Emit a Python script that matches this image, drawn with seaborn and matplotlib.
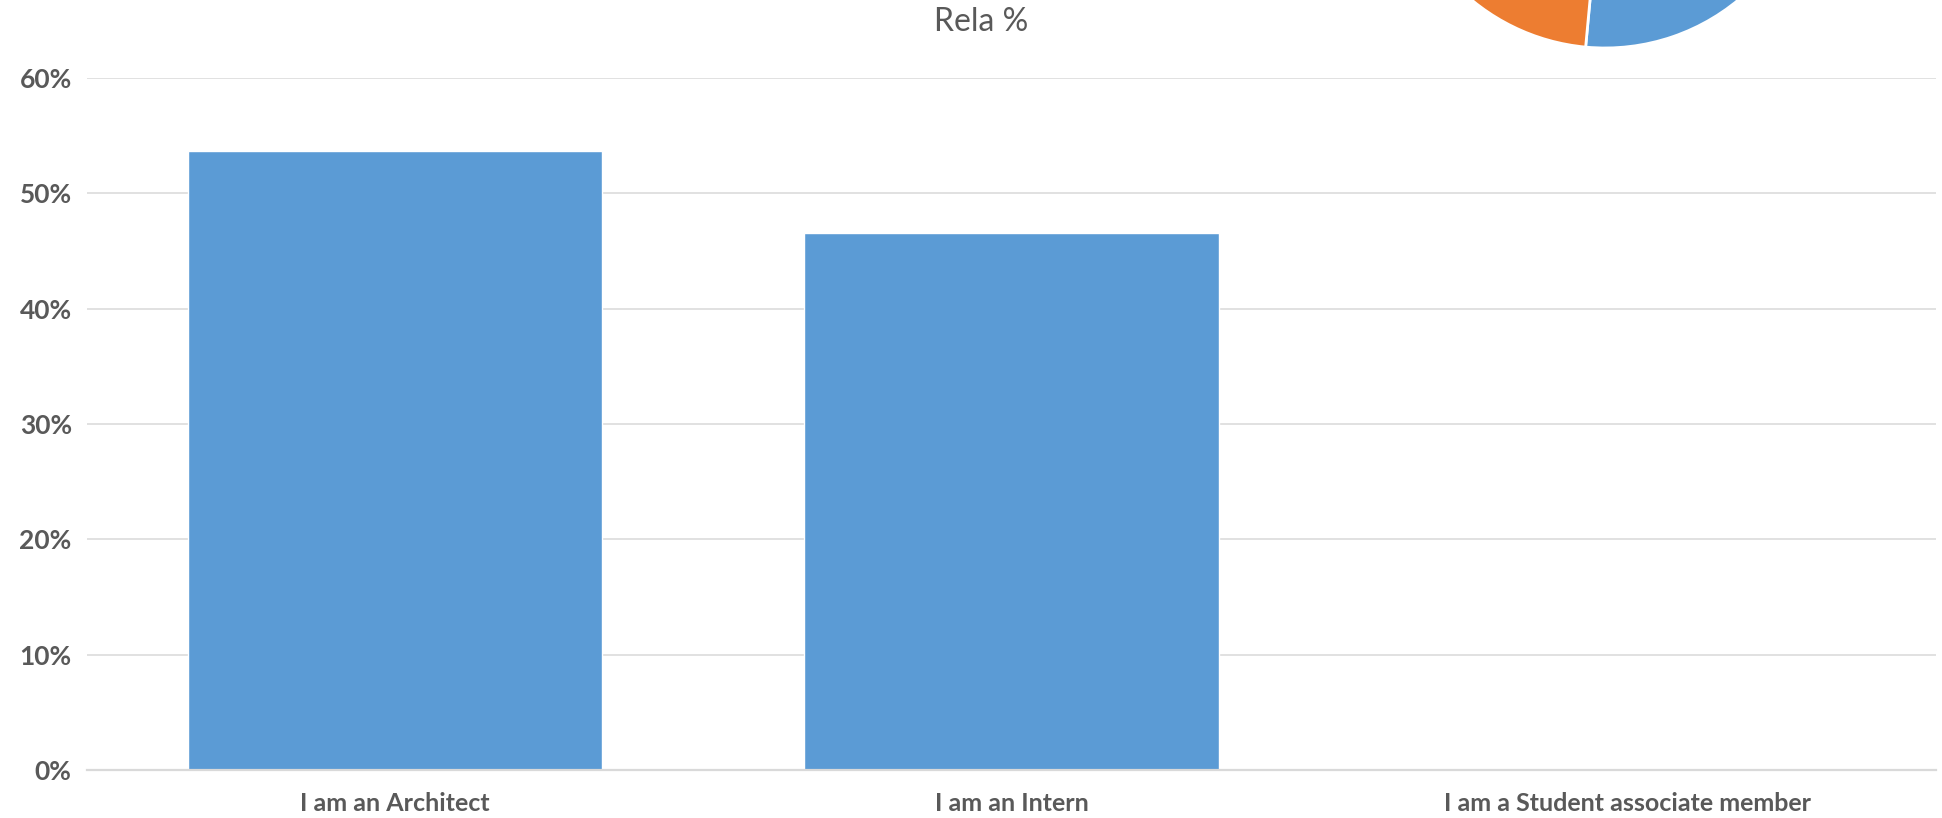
import matplotlib
matplotlib.use("Agg")
import matplotlib.pyplot as plt
import seaborn as sns

# data
categories = ["I am an Architect", "I am an Intern", "I am a Student associate member"]
rela_pct = [53.7, 46.6, 0.0]
pie_labels = ["Architect", "Intern"]
pie_values = [53.7, 46.3]

sns.set_style("white")
plt.rcParams['font.family'] = ['Lato', 'DejaVu Sans']

blue = "#5B9BD5"
orange = "#ED7D31"
grey_txt = "#595959"
grid_col = "#D9D9D9"

fig = plt.figure(figsize=(19.42, 8.18), dpi=100)
ax = fig.add_axes([87 / 1942, 48 / 818, (1936 - 87) / 1942, (770 - 78) / 818])

sns.barplot(x=categories, y=rela_pct, color=blue, width=0.672, saturation=1, ax=ax)

ax.set_ylim(0, 60)
ax.set_xlim(-0.5, 2.5)
ax.set_yticks(range(0, 61, 10))
ax.set_yticklabels([f"{v}%" for v in range(0, 61, 10)])
ax.yaxis.grid(True, color=grid_col, linewidth=1.1)
ax.set_axisbelow(True)
for s in ["top", "right", "left"]:
    ax.spines[s].set_visible(False)
ax.spines["bottom"].set_color(grid_col)
ax.spines["bottom"].set_linewidth(1.6)
ax.tick_params(axis="both", length=0, labelcolor=grey_txt)
ax.tick_params(axis="y", pad=11, labelsize=19)
ax.tick_params(axis="x", pad=16, labelsize=18)
for lab in ax.get_xticklabels() + ax.get_yticklabels():
    lab.set_fontweight("bold")
ax.set_xlabel("")
ax.set_ylabel("")

fig.text(0.505, 1 - 22 / 818, "Rela %", ha="center", va="center",
         fontsize=23, color=grey_txt)

# pie chart overlapping the top right corner, mostly off the canvas
pax = fig.add_axes([(1605 - 209) / 1942, (818 + 161 - 209) / 818, 418 / 1942, 418 / 818])
pax.pie(pie_values, colors=[blue, orange], startangle=98, counterclock=False,
        wedgeprops={"edgecolor": "white", "linewidth": 2})
pax.set_xlim(-1, 1)
pax.set_ylim(-1, 1)
pax.set_aspect("equal")
pax.axis("off")

fig.savefig("out.png", dpi=100)
